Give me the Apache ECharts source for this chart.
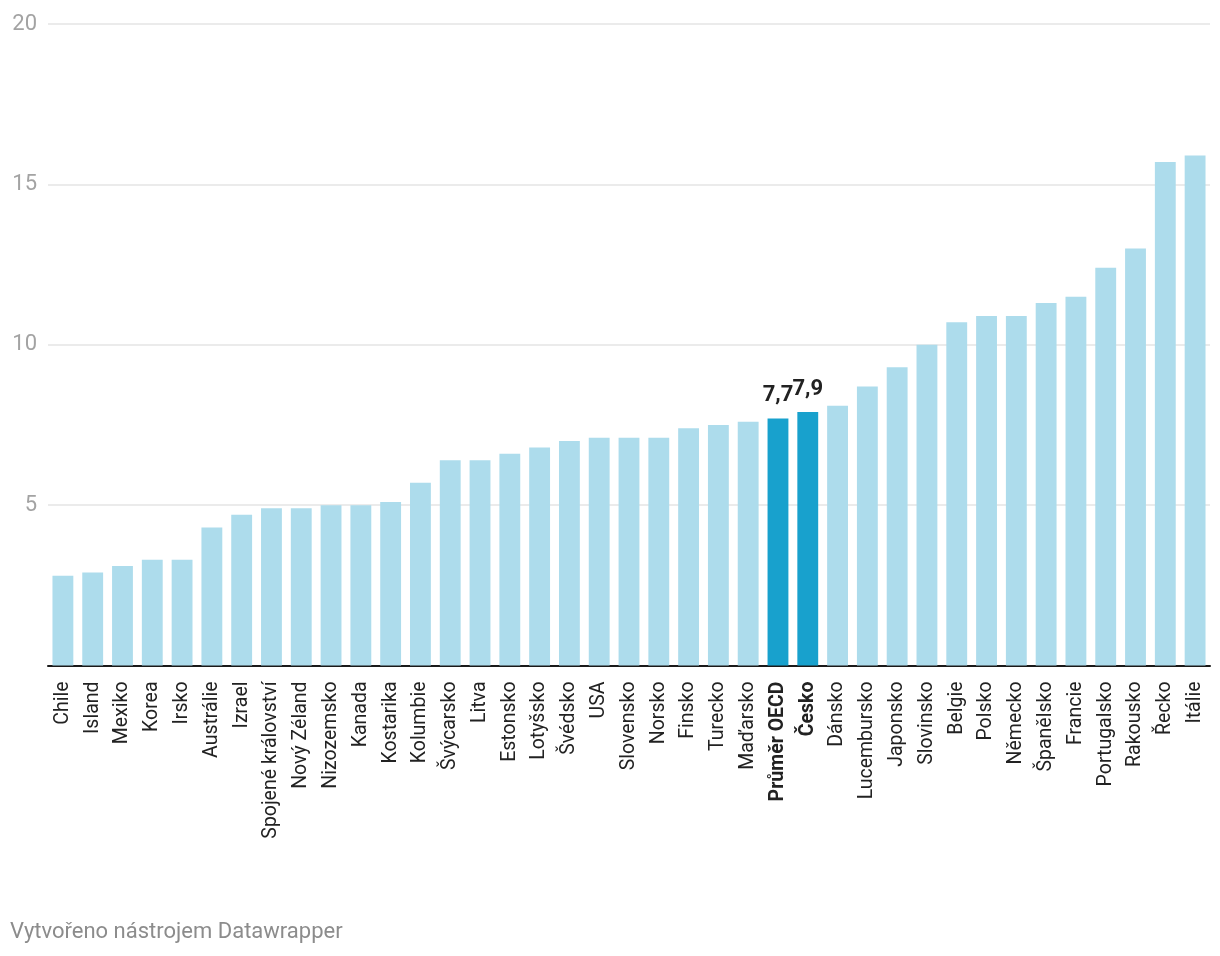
<!DOCTYPE html>
<html>
<head>
<meta charset="utf-8">
<script src="https://cdn.jsdelivr.net/npm/echarts@6/dist/echarts.min.js"></script>
<style>
html,body{margin:0;padding:0;background:#fff;}
#chart{width:1220px;height:956px;}
</style>
</head>
<body>
<div id="chart"></div>
<script>
const categories = ["Chile","Island","Mexiko","Korea","Irsko","Austrálie","Izrael","Spojené království","Nový Zéland","Nizozemsko","Kanada","Kostarika","Kolumbie","Švýcarsko","Litva","Estonsko","Lotyšsko","Švédsko","USA","Slovensko","Norsko","Finsko","Turecko","Maďarsko","Průměr OECD","Česko","Dánsko","Lucembursko","Japonsko","Slovinsko","Belgie","Polsko","Německo","Španělsko","Francie","Portugalsko","Rakousko","Řecko","Itálie"];
const values = [2.8,2.9,3.1,3.3,3.3,4.3,4.7,4.9,4.9,5.0,5.0,5.1,5.7,6.4,6.4,6.6,6.8,7.0,7.1,7.1,7.1,7.4,7.5,7.6,7.7,7.9,8.1,8.7,9.3,10.0,10.7,10.9,10.9,11.3,11.5,12.4,13.0,15.7,15.9];
const highlighted = ["Průměr OECD","Česko"];
const yTicks = [0,5,10,15,20];

const baseColor = '#addcec';
const hiColor = '#18a1cd';

const seriesData = values.map((v, i) => {
  const hi = highlighted.includes(categories[i]);
  return {
    value: v,
    itemStyle: { color: hi ? hiColor : baseColor },
    label: {
      show: hi,
      position: 'top',
      distance: 12,
      formatter: p => String(p.value).replace('.', ','),
      fontFamily: 'Roboto',
      fontWeight: 'bold',
      fontSize: 22,
      color: '#222'
    }
  };
});

const chart = echarts.init(document.getElementById('chart'), null, {renderer: 'canvas'});
chart.setOption({
  animation: false,
  backgroundColor: '#fff',
  grid: { left: 48, right: 10, top: 24, bottom: 290.5, containLabel: false },
  xAxis: {
    type: 'category',
    data: categories,
    axisTick: { show: false },
    axisLine: { lineStyle: { color: '#1a1a1a', width: 2 } },
    axisLabel: {
      interval: 0,
      rotate: 90,
      margin: 16,
      fontFamily: 'Roboto',
      fontSize: 19.5,
      color: '#222',
      formatter: v => highlighted.includes(v) ? '{b|' + v + '}' : v,
      rich: { b: { fontWeight: 'bold', fontFamily: 'Roboto', fontSize: 19.5, color: '#222' } }
    }
  },
  yAxis: {
    type: 'value',
    min: yTicks[0],
    max: yTicks[yTicks.length - 1],
    interval: 5,
    axisLine: { show: false },
    axisTick: { show: false },
    splitLine: { lineStyle: { color: '#e5e5e5', width: 1.5 } },
    axisLabel: {
      margin: 11,
      fontFamily: 'Roboto',
      fontSize: 22,
      color: '#a3a3a3',
      formatter: v => v === 0 ? '' : String(v)
    }
  },
  series: [{
    type: 'bar',
    data: seriesData,
    barCategoryGap: '30%',
    z: 3
  }],
  graphic: [{
    type: 'text',
    left: 10,
    top: 921,
    style: {
      text: 'Vytvořeno nástrojem Datawrapper',
      fontFamily: 'Roboto',
      fontSize: 22,
      fill: '#8c8c8c'
    }
  }]
});
</script>
</body>
</html>
